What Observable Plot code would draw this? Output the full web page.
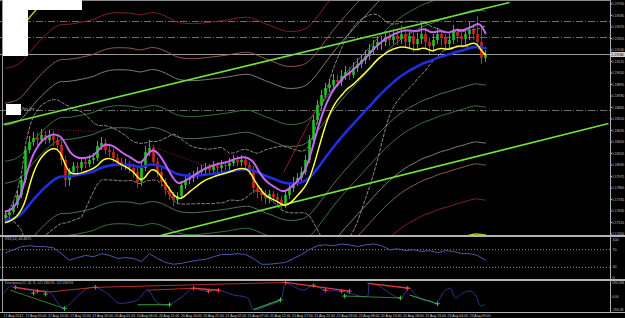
<!DOCTYPE html>
<html><head><meta charset="utf-8">
<script src="https://cdn.jsdelivr.net/npm/d3@7"></script>
<script src="https://cdn.jsdelivr.net/npm/@observablehq/plot@0.6"></script>
<style>
html,body{margin:0;padding:0;background:#000;}
#chart{position:relative;width:625px;height:318px;background:#000;overflow:hidden;font-family:"Liberation Sans",sans-serif;}
#chart svg{position:absolute;left:0;}
.box{position:absolute;}
.lbl{position:absolute;color:#b8b8b8;white-space:nowrap;line-height:1;}
</style></head><body><div id="chart"></div>
<script>
// ---------- DATA (H1 candles) ----------
const closes = [
1.1757,1.1760,1.1767,1.1777,1.1792,1.1822,1.1830,1.1834,1.1832,1.1837,
1.1832,1.1836,1.1832,1.1827,1.1812,1.1792,1.1800,1.1806,1.1804,1.1810,
1.1808,1.1812,1.1814,1.1826,1.1829,1.1822,1.1820,1.1814,1.1810,1.1806,
1.1808,1.1804,1.1800,1.1790,1.1804,1.1820,1.1824,1.1810,1.1800,1.1790,
1.1782,1.1777,1.1772,1.1776,1.1787,1.1792,1.1794,1.1796,1.1800,1.1802,
1.1804,1.1802,1.1806,1.1804,1.1807,1.1806,1.1809,1.1812,1.1810,1.1812,
1.1807,1.1802,1.1784,1.1780,1.1777,1.1774,1.1778,1.1775,1.1772,1.1768,
1.1777,1.1784,1.1790,1.1794,1.1800,1.1812,1.1832,1.1852,1.1867,1.1877,
1.1884,1.1887,1.1892,1.1890,1.1896,1.1900,1.1897,1.1904,1.1908,1.1912,
1.1916,1.1922,1.1926,1.1930,1.1930,1.1934,1.1932,1.1936,1.1933,1.1938,
1.1930,1.1936,1.1928,1.1933,1.1938,1.1930,1.1926,1.1932,1.1938,1.1934,
1.1928,1.1932,1.1940,1.1936,1.1933,1.1938,1.1942,1.1938,1.1930,1.1914,
1.1918];
const opens = [
1.1754,1.1757,1.1760,1.1767,1.1777,1.1792,1.1822,1.1830,1.1834,1.1832,
1.1837,1.1832,1.1836,1.1832,1.1827,1.1812,1.1792,1.1800,1.1806,1.1804,
1.1810,1.1808,1.1812,1.1814,1.1826,1.1829,1.1822,1.1820,1.1814,1.1810,
1.1806,1.1808,1.1804,1.1800,1.1790,1.1804,1.1820,1.1824,1.1810,1.1800,
1.1790,1.1782,1.1777,1.1772,1.1776,1.1787,1.1792,1.1794,1.1796,1.1800,
1.1802,1.1804,1.1802,1.1806,1.1804,1.1807,1.1806,1.1809,1.1812,1.1810,
1.1812,1.1807,1.1802,1.1784,1.1780,1.1777,1.1774,1.1778,1.1775,1.1772,
1.1768,1.1777,1.1784,1.1790,1.1794,1.1800,1.1812,1.1832,1.1852,1.1867,
1.1877,1.1884,1.1887,1.1892,1.1890,1.1896,1.1900,1.1897,1.1904,1.1908,
1.1912,1.1916,1.1922,1.1926,1.1930,1.1930,1.1934,1.1932,1.1936,1.1933,
1.1938,1.1930,1.1936,1.1928,1.1933,1.1938,1.1930,1.1926,1.1932,1.1938,
1.1934,1.1928,1.1932,1.1940,1.1936,1.1933,1.1938,1.1942,1.1938,1.1930,
1.1914];
const highs = [
1.1761,1.1764,1.1770,1.1782,1.1796,1.1826,1.1836,1.1840,1.1839,1.1843,
1.1841,1.1842,1.1841,1.1836,1.1831,1.1816,1.1804,1.1810,1.1810,1.1814,
1.1815,1.1817,1.1819,1.1831,1.1835,1.1833,1.1826,1.1824,1.1818,1.1814,
1.1813,1.1811,1.1808,1.1804,1.1809,1.1826,1.1832,1.1827,1.1814,1.1804,
1.1794,1.1786,1.1780,1.1780,1.1791,1.1797,1.1799,1.1801,1.1805,1.1807,
1.1809,1.1808,1.1811,1.1810,1.1812,1.1811,1.1814,1.1817,1.1816,1.1817,
1.1816,1.1810,1.1806,1.1788,1.1784,1.1782,1.1782,1.1781,1.1779,1.1776,
1.1782,1.1789,1.1795,1.1799,1.1805,1.1817,1.1837,1.1857,1.1872,1.1882,
1.1889,1.1893,1.1898,1.1897,1.1902,1.1906,1.1905,1.1910,1.1914,1.1918,
1.1922,1.1928,1.1932,1.1936,1.1936,1.1941,1.1940,1.1943,1.1942,1.1946,
1.1943,1.1942,1.1941,1.1939,1.1948,1.1944,1.1935,1.1938,1.1944,1.1942,
1.1938,1.1938,1.1947,1.1944,1.1941,1.1944,1.1950,1.1948,1.1956,1.1944,
1.1922];
const lows = [
1.1750,1.1753,1.1758,1.1764,1.1774,1.1789,1.1819,1.1826,1.1827,1.1829,
1.1828,1.1829,1.1826,1.1822,1.1807,1.1785,1.1786,1.1796,1.1799,1.1801,
1.1804,1.1805,1.1808,1.1811,1.1822,1.1818,1.1815,1.1810,1.1806,1.1802,
1.1802,1.1799,1.1795,1.1784,1.1786,1.1801,1.1816,1.1806,1.1795,1.1785,
1.1777,1.1772,1.1766,1.1768,1.1773,1.1783,1.1788,1.1790,1.1793,1.1796,
1.1798,1.1797,1.1799,1.1800,1.1800,1.1802,1.1802,1.1806,1.1806,1.1806,
1.1803,1.1797,1.1779,1.1774,1.1771,1.1768,1.1769,1.1770,1.1767,1.1762,
1.1764,1.1773,1.1780,1.1786,1.1790,1.1797,1.1809,1.1829,1.1848,1.1863,
1.1874,1.1880,1.1883,1.1885,1.1886,1.1892,1.1892,1.1894,1.1900,1.1904,
1.1908,1.1912,1.1918,1.1922,1.1922,1.1926,1.1926,1.1928,1.1927,1.1928,
1.1924,1.1923,1.1920,1.1922,1.1928,1.1924,1.1918,1.1920,1.1928,1.1926,
1.1921,1.1923,1.1928,1.1930,1.1926,1.1927,1.1932,1.1932,1.1926,1.1908,
1.1910];

const priceTicks = [1.19700,1.19585,1.19470,1.19355,1.19240,1.19125,1.19010,1.18895,1.18780,1.18665,
  1.18550,1.18435,1.18320,1.18205,1.18090,1.17975,1.17860,1.17745,1.17630,1.17515,1.17400];
const currentPrice = 1.1918;
const dashDotLevels = [1.1951, 1.1935, 1.1862];

const envOffsets = [0.0037, 0.0059, 0.0095, 0.0117, 0.0152, 0.0187];
const envColors  = ["#56805a", "#3f7d3f", "#8c8c84", "#9a6658", "#8a2828", "#9acd32"];

const trendLines = [
  {x1: -0.5, y1: 1.1848, x2: 126, y2: 1.1970},
  {x1: 38.75, y1: 1.1737, x2: 150.75, y2: 1.1849}
];
const zigzagDotted = [
  {x1: 5, y1: 1.1834, x2: 11.25, y2: 1.1843},
  {x1: 11.25, y1: 1.1843, x2: 23.75, y2: 1.1841},
  {x1: 35.75, y1: 1.1827, x2: 51.25, y2: 1.1805},
  {x1: 48.75, y1: 1.1807, x2: 60, y2: 1.1810}
];
const zigzagSolid = [{x1: 69.5, y1: 1.1800, x2: 78.75, y2: 1.1872}];

const rsiVals = [63,70,77,79,77,77,74,61,46,52, 57,54,61,57,50,52,50,43,61,50,
  41,37,39,43,46,48,54,59,59,61, 59,50,37,37,39,41,50,59,70,79,
  81,79,83,81,77,81,83,79,70,72, 68,70,66,68,63,68,66,61,61,57, 46];
const rsiLevels = [70, 30];

const divIdx = [-0.5,1.25,3,6.25,8.75,10.75,14.5,18,20.5,22.5,24.5,26.25,28,30.5,33,35.5,38,40.5,43.75,47,
  48.75,50.75,53.25,57,60.5,62,65.5,68.75,70,72,74.5,76.75,80,84.25,88.5,90.5,91,93.5,96.75,98.75,
  101,102.5,104.25,106.25,107.5,109.75,111.25,112.5,114.25,116.25,117.5,118.75,119.75];
const divVal = [72,217,176,134,114,114,-238,10,176,196,114,10,-134,-134,-72,134,-134,-176,-31,176,
  134,114,134,31,-31,-279,-196,-72,279,217,134,238,134,114,10,10,279,217,31,-31,
  176,31,-72,-93,-155,114,176,-31,72,114,31,-196,-176];
const divRed = [
  {x1: 2.5, y1: 196, x2: 10.5, y2: 93, dash: null},
  {x1: 10.5, y1: 93, x2: 22.5, y2: 196, dash: "1,1.5"},
  {x1: 22.5, y1: 196, x2: 70, y2: 300, dash: "1,1.5"},
  {x1: 35.5, y1: 134, x2: 47, y2: 176, dash: "1,1.5"},
  {x1: 47, y1: 176, x2: 53.25, y2: 134, dash: null},
  {x1: 70, y1: 300, x2: 86, y2: 114, dash: null},
  {x1: 90.5, y1: 279, x2: 101, y2: 176, dash: null}
];
const divGreen = [
  {x1: 1.25, y1: 134, x2: 14.75, y2: -258, dash: "1,1.5"},
  {x1: 33, y1: -176, x2: 41, y2: -176, dash: null},
  {x1: 62, y1: -279, x2: 68.75, y2: -72, dash: null},
  {x1: 84.75, y1: 10, x2: 98.75, y2: -31, dash: "1,1.5"},
  {x1: 101, y1: 31, x2: 108, y2: -155, dash: null}
];
const divRedMarks = [{x: 2.5, y: 196}, {x: 8, y: 114}, {x: 22.5, y: 196}, {x: 47, y: 176}, {x: 50.75, y: 114},
  {x: 53.25, y: 134}, {x: 70, y: 300}, {x: 77, y: 238}, {x: 80, y: 134}, {x: 84, y: 114}, {x: 86, y: 114}, {x: 100.5, y: 176}];
const divGreenMarks = [{x: 7, y: 72}, {x: 10, y: 52}, {x: 14.75, y: -258}, {x: 41, y: -176}, {x: 68.75, y: -72},
  {x: 84.75, y: 10}, {x: 98.75, y: -31}, {x: 108, y: -155}];
const divLabels = [{v: 290, t: "290.584"}, {v: 0, t: "0.00"}, {v: -290, t: "-290.48"}];

const timeLabels = ["17 Aug 2012","17 Aug 05:00","17 Aug 10:00","17 Aug 15:00","17 Aug 20:00","20 Aug 01:00",
  "20 Aug 06:00","20 Aug 11:00","20 Aug 16:00","20 Aug 21:00","21 Aug 02:00","21 Aug 07:00","21 Aug 12:00",
  "21 Aug 17:00","21 Aug 22:00","22 Aug 03:00","22 Aug 08:00","22 Aug 13:00","22 Aug 18:00","22 Aug 23:00",
  "23 Aug 04:00","23 Aug 09:00"];

// ---------- INDICATORS ----------
function ema(arr, n, seed) {
  const a = 2 / (n + 1); const out = []; let p = seed;
  for (let i = 0; i < arr.length; i++) { p = a * arr[i] + (1 - a) * p; out.push(p); }
  return out;
}
const blue = ema(closes, 26, 1.1752), purple = ema(highs, 5, highs[0]), yellow = ema(lows, 5, lows[0]);
const data = closes.map((c, i) => {
  const w = closes.slice(Math.max(0, i - 19), i + 1);
  const m = d3.mean(w), s = w.length > 1 ? d3.deviation(w) : 0;
  return {i, open: opens[i], high: highs[i], low: lows[i], close: c,
    blue: blue[i], purple: purple[i], yellow: yellow[i], bbU: m + 2 * s, bbL: m - 2 * s};
});
const col = d => d.close >= d.open ? "#22c322" : "#d42222";

const X = {domain: [-1.25, 151.25], axis: null};
const baseStyle = {background: "#000", color: "#c0c0c0", fontFamily: "Liberation Sans, sans-serif"};

// ---------- MAIN PANEL ----------
const envMarks = [];
envOffsets.forEach((o, k) => {
  envMarks.push(Plot.line(data, {x: "i", y: d => d.blue + o, stroke: envColors[k], strokeWidth: k === 5 ? 1.5 : 0.9, clip: true, curve: "basis"}));
  envMarks.push(Plot.line(data, {x: "i", y: d => d.blue - o, stroke: envColors[k], strokeWidth: k === 5 ? 1.5 : 0.9, clip: true, curve: "basis"}));
});

const main = Plot.plot({
  width: 625, height: 236, marginLeft: 0, marginRight: 15, marginTop: 0, marginBottom: 0,
  style: baseStyle, x: X, y: {domain: [1.1736, 1.1972], axis: null},
  marks: [
    Plot.ruleY(dashDotLevels, {stroke: "#8a8a8a", strokeWidth: 0.8, strokeDasharray: "7,2,1,2"}),
    Plot.ruleY([currentPrice], {stroke: "#9a9a9a", strokeWidth: 1}),
    ...envMarks,
    Plot.line(data, {x: "i", y: "bbU", stroke: "#a8a8a8", strokeWidth: 0.8, strokeDasharray: "3,2", clip: true}),
    Plot.line(data, {x: "i", y: "bbL", stroke: "#a8a8a8", strokeWidth: 0.8, strokeDasharray: "3,2", clip: true}),
    Plot.link(zigzagDotted, {x1: "x1", y1: "y1", x2: "x2", y2: "y2", stroke: "#a52a2a", strokeWidth: 0.8, strokeDasharray: "1,1.5"}),
    Plot.link(zigzagSolid, {x1: "x1", y1: "y1", x2: "x2", y2: "y2", stroke: "#8b2020", strokeWidth: 1}),
    Plot.link(trendLines, {x1: "x1", y1: "y1", x2: "x2", y2: "y2", stroke: "#6fe040", strokeWidth: 1.6, clip: true}),
    Plot.ruleX(data, {x: "i", y1: "low", y2: "high", stroke: col, strokeWidth: 1}),
    Plot.ruleX(data, {x: "i", y1: "open", y2: "close", stroke: col, strokeWidth: 2.6}),
    Plot.line(data, {x: "i", y: "blue", stroke: "#1f2fe0", strokeWidth: 2.6, curve: "basis"}),
    Plot.line(data, {x: "i", y: "yellow", stroke: "#ffff3a", strokeWidth: 1.5, curve: "basis"}),
    Plot.line(data, {x: "i", y: "purple", stroke: "#c466ee", strokeWidth: 2, curve: "basis"}),
    Plot.ruleX([151.25], {stroke: "#b0b0b0", strokeWidth: 1}),
    Plot.axisY(priceTicks, {anchor: "right", tickSize: 1, tickPadding: 0.5, fontSize: 3.4, dy: 1.5, tickFormat: d => d.toFixed(5)}),
    Plot.ruleY([currentPrice], {x1: 151.4, x2: 155.1, stroke: "#d0d0d0", strokeWidth: 5}),
    Plot.text([currentPrice], {x: 151.5, y: d => d, text: d => d.toFixed(5), fill: "#000", fontSize: 3.4, textAnchor: "start"})
  ]
});
main.style.top = "0px";

// ---------- RSI PANEL ----------
const rsi = Plot.plot({
  width: 625, height: 44, marginLeft: 0, marginRight: 15, marginTop: 0, marginBottom: 0,
  style: baseStyle, x: X, y: {domain: [0, 100], axis: null},
  marks: [
    Plot.ruleY(rsiLevels, {stroke: "#b5b5b5", strokeWidth: 0.8, strokeDasharray: "1,2"}),
    Plot.line(rsiVals, {x: (d, k) => k * 2, y: d => d, stroke: "#4a5aa8", strokeWidth: 1}),
    Plot.ruleX([151.25], {stroke: "#b0b0b0", strokeWidth: 1}),
    Plot.text(rsiLevels, {x: 151.25, y: d => d, text: d => String(d), dx: 2, fontSize: 3.6, textAnchor: "start", fill: "#c0c0c0"}),
    Plot.text([100], {x: 151.25, y: d => d, text: d => String(d), dx: 2, dy: 3, fontSize: 3.6, textAnchor: "start", fill: "#c0c0c0"}),
    Plot.text([0], {x: 151.25, y: d => d, text: d => String(d), dx: 2, dy: -3, fontSize: 3.6, textAnchor: "start", fill: "#c0c0c0"})
  ]
});
rsi.style.top = "236px";

// ---------- DIVERGENCE PANEL ----------
const divPts = divIdx.map((x, k) => ({x, v: divVal[k]}));
const dv = Plot.plot({
  width: 625, height: 32, marginLeft: 0, marginRight: 15, marginTop: 0, marginBottom: 0,
  style: baseStyle, x: X, y: {domain: [-342, 342], axis: null},
  marks: [
    Plot.line(divPts, {x: "x", y: "v", stroke: "#2a3590", strokeWidth: 1, curve: "catmull-rom"}),
    Plot.link(divRed, {x1: "x1", y1: "y1", x2: "x2", y2: "y2", stroke: "#e03a3a", strokeWidth: d => d.dash ? 0.8 : 1.3, strokeDasharray: d => d.dash}),
    Plot.link(divGreen, {x1: "x1", y1: "y1", x2: "x2", y2: "y2", stroke: "#3aa03a", strokeWidth: d => d.dash ? 0.8 : 1.1, strokeDasharray: d => d.dash}),
    Plot.dot(divRedMarks, {x: "x", y: "y", symbol: "plus", r: 1.6, stroke: "#ff4040", strokeWidth: 1}),
    Plot.dot(divGreenMarks, {x: "x", y: "y", symbol: "plus", r: 1.6, stroke: "#40c040", strokeWidth: 1}),
    Plot.ruleX([151.25], {stroke: "#b0b0b0", strokeWidth: 1}),
    Plot.text(divLabels, {x: 151.25, y: "v", text: "t", dx: 1.5, fontSize: 3.4, textAnchor: "start", fill: "#c0c0c0"})
  ]
});
dv.style.top = "280px";

// ---------- TIME AXIS ----------
const tAxis = Plot.plot({
  width: 625, height: 6, marginLeft: 0, marginRight: 15, marginTop: 0, marginBottom: 0,
  style: baseStyle, x: X, y: {axis: null},
  marks: [
    Plot.text(timeLabels, {x: (d, k) => -0.5 + k * 5.55, text: d => d, frameAnchor: "middle", textAnchor: "start", fontSize: 3.5, fill: "#c8c8c8"})
  ]
});
tAxis.style.top = "312px";

const chart = document.getElementById("chart");
[main, rsi, dv, tAxis].forEach(s => chart.appendChild(s));

function addBox(l, t, w, h, bg) { const d = document.createElement("div"); d.className = "box";
  Object.assign(d.style, {left: l + "px", top: t + "px", width: w + "px", height: h + "px", background: bg}); chart.appendChild(d); }
function addLbl(l, t, txt, fs) { const d = document.createElement("div"); d.className = "lbl";
  Object.assign(d.style, {left: l + "px", top: t + "px", fontSize: fs + "px"}); d.textContent = txt; chart.appendChild(d); }
addBox(0, 0, 611, 1, "#8a8a8a");
addBox(2, 0, 1, 313, "#9a9a9a");
addBox(0, 235, 625, 2, "#b4b4b4");
addBox(0, 279, 625, 2, "#b4b4b4");
addBox(0, 312, 625, 1, "#b4b4b4");
addBox(3, 0, 79, 10, "#fff");
addBox(3, 0, 25, 56, "#fff");
addBox(6, 104, 15, 11, "#fff");
addLbl(22, 107.5, "Rev line", 3.5);
addLbl(5, 237.5, "RSI(14) 46.8675", 3.6);
addLbl(5, 281.5, "Divergence(12, 26, 9) -121.336194 -121.336194", 3.2);
</script></body></html>
